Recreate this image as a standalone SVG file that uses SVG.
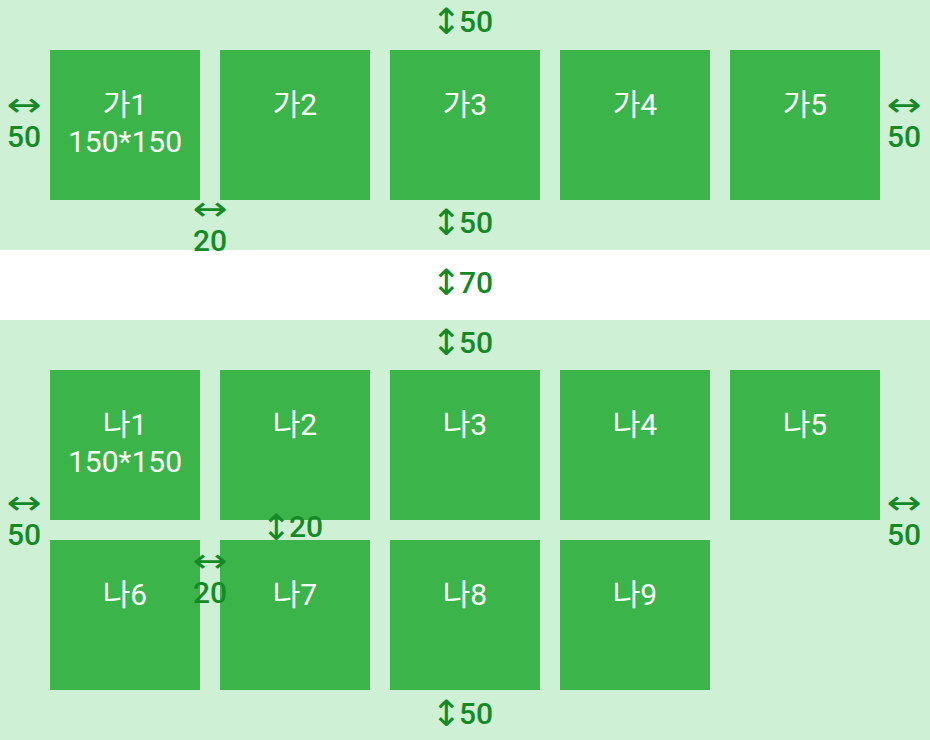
<svg xmlns="http://www.w3.org/2000/svg" width="930" height="740" viewBox="0 0 930 740">
<style>
.band{fill:#cef0d4}
.box{fill:#3bb54a}
.lbl{font-family:Roboto,"Noto Sans CJK KR",sans-serif;font-size:30px;fill:#ffffff;text-anchor:middle}
.dim{font-family:Roboto,sans-serif;font-size:30px;font-weight:500;fill:#148a24}
.ar{font-family:"DejaVu Sans",sans-serif;font-size:36px;fill:#148a24}
.ah{font-family:"DejaVu Sans",sans-serif;font-size:30px;fill:#148a24;text-anchor:middle}
.c{text-anchor:middle}
</style>
<rect x="0" y="0" width="930" height="740" fill="#ffffff"/>
<rect class="band" x="0" y="0" width="930" height="250"/>
<rect class="band" x="0" y="320" width="930" height="420"/>
<g id="ga1"><rect class="box" x="50" y="50" width="150" height="150"/><text class="lbl" x="125" y="115">가1</text><text class="lbl" x="125" y="152">150*150</text></g>
<g id="ga2"><rect class="box" x="220" y="50" width="150" height="150"/><text class="lbl" x="295" y="115">가2</text></g>
<g id="ga3"><rect class="box" x="390" y="50" width="150" height="150"/><text class="lbl" x="465" y="115">가3</text></g>
<g id="ga4"><rect class="box" x="560" y="50" width="150" height="150"/><text class="lbl" x="635" y="115">가4</text></g>
<g id="ga5"><rect class="box" x="730" y="50" width="150" height="150"/><text class="lbl" x="805" y="115">가5</text></g>
<g id="na1"><rect class="box" x="50" y="370" width="150" height="150"/><text class="lbl" x="125" y="435">나1</text><text class="lbl" x="125" y="472">150*150</text></g>
<g id="na2"><rect class="box" x="220" y="370" width="150" height="150"/><text class="lbl" x="295" y="435">나2</text></g>
<g id="na3"><rect class="box" x="390" y="370" width="150" height="150"/><text class="lbl" x="465" y="435">나3</text></g>
<g id="na4"><rect class="box" x="560" y="370" width="150" height="150"/><text class="lbl" x="635" y="435">나4</text></g>
<g id="na5"><rect class="box" x="730" y="370" width="150" height="150"/><text class="lbl" x="805" y="435">나5</text></g>
<g id="na6"><rect class="box" x="50" y="540" width="150" height="150"/><text class="lbl" x="125" y="605">나6</text></g>
<g id="na7"><rect class="box" x="220" y="540" width="150" height="150"/><text class="lbl" x="295" y="605">나7</text></g>
<g id="na8"><rect class="box" x="390" y="540" width="150" height="150"/><text class="lbl" x="465" y="605">나8</text></g>
<g id="na9"><rect class="box" x="560" y="540" width="150" height="150"/><text class="lbl" x="635" y="605">나9</text></g>
<g id="dims">
<text x="431" y="34"><tspan class="ar">↕</tspan><tspan class="dim" x="459" y="32">50</tspan></text>
<text x="431" y="235"><tspan class="ar">↕</tspan><tspan class="dim" x="459" y="233">50</tspan></text>
<text x="431" y="295"><tspan class="ar">↕</tspan><tspan class="dim" x="459" y="293">70</tspan></text>
<text x="431" y="355"><tspan class="ar">↕</tspan><tspan class="dim" x="459" y="353">50</tspan></text>
<text x="431" y="726"><tspan class="ar">↕</tspan><tspan class="dim" x="459" y="724">50</tspan></text>
<text x="261" y="540"><tspan class="ar">↕</tspan><tspan class="dim" x="289" y="537">20</tspan></text>
<text class="ah" transform="translate(24 116) scale(1.4 1.1)">↔</text><text class="dim c" x="24" y="147">50</text>
<text class="ah" transform="translate(904 116) scale(1.4 1.1)">↔</text><text class="dim c" x="904" y="147">50</text>
<text class="ah" transform="translate(210 220) scale(1.4 1.1)">↔</text><text class="dim c" x="210" y="251">20</text>
<text class="ah" transform="translate(24 514) scale(1.4 1.1)">↔</text><text class="dim c" x="24" y="545">50</text>
<text class="ah" transform="translate(904 514) scale(1.4 1.1)">↔</text><text class="dim c" x="904" y="545">50</text>
<text class="ah" transform="translate(210 572) scale(1.4 1.1)">↔</text><text class="dim c" x="210" y="603">20</text>
</g>
</svg>
